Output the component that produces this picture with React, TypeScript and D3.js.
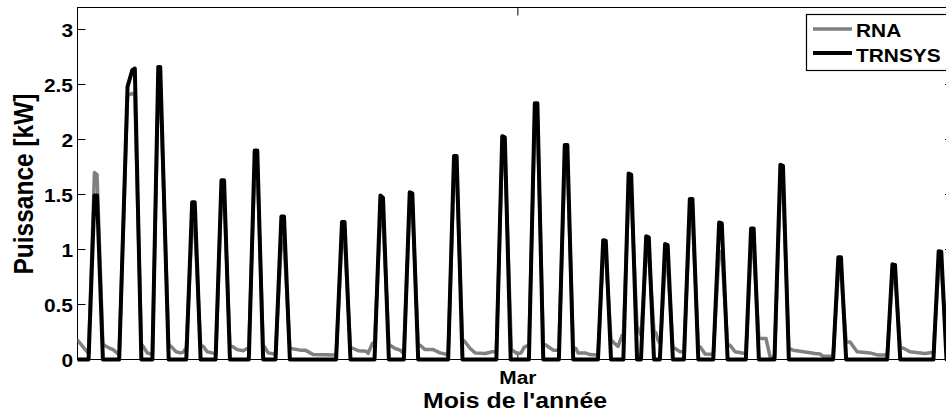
import React from "react";
import * as d3 from "d3";

// Time axis: hours since 15 Feb 00:00 ; "Mar" tick = 1 March 00:00
const xDomain: [number, number] = [-2, 670];
const yDomain: [number, number] = [0, 3.2];
const yTicks = [0, 0.5, 1, 1.5, 2, 2.5, 3];
const yTickLabels = ["0", "0.5", "1", "1.5", "2", "2.5", "3"];
const xTicks = [336];
const xTickLabels = ["Mar"];
const seriesNames = ["RNA", "TRNSYS"];

// TRNSYS simulated power [hour, kW]
const trnsysPoints: [number, number][] = [
  [-2, 0],
  [6.5, 0], [11, 1.49], [13, 1.49], [17.5, 0],
  [30, 0], [36.4, 2.48], [40, 2.63], [42, 2.645], [47, 0],
  [55.5, 0], [60, 2.66], [61.5, 2.66], [68, 0],
  [81.5, 0], [86, 1.43], [88, 1.43], [92.5, 0],
  [104, 0], [108.5, 1.63], [110.5, 1.63], [115, 0],
  [129.5, 0], [134, 1.9], [136, 1.9], [140.5, 0],
  [150, 0], [154.5, 1.3], [156.5, 1.3], [161, 0],
  [196.5, 0], [201, 1.25], [203, 1.25], [207.5, 0],
  [226, 0], [230.5, 1.49], [232.5, 1.47], [237, 0],
  [248.5, 0], [253, 1.52], [255, 1.51], [259.5, 0],
  [282.5, 0], [287, 1.85], [289, 1.85], [293.5, 0],
  [319.5, 0], [324, 2.03], [326, 2.02], [330.5, 0],
  [344.5, 0], [349, 2.33], [351, 2.33], [355.5, 0],
  [367.5, 0], [372, 1.95], [374, 1.95], [378.5, 0],
  [397.5, 0], [401.5, 1.085], [403.5, 1.08], [407.5, 0],
  [417, 0], [421, 1.69], [423, 1.68], [427.5, 0],
  [430.5, 0], [434.5, 1.12], [436.5, 1.11], [440.5, 0],
  [445, 0], [449, 1.05], [451, 1.04], [455, 0],
  [463.5, 0], [468, 1.46], [470, 1.46], [474.5, 0],
  [486, 0], [490.5, 1.245], [492.5, 1.24], [497, 0],
  [511, 0], [515, 1.19], [517, 1.19], [521, 0],
  [533, 0], [537.5, 1.77], [539.5, 1.76], [544, 0],
  [578, 0], [582, 0.93], [584, 0.93], [588, 0],
  [619.5, 0], [623.5, 0.865], [625.5, 0.86], [629.5, 0],
  [655, 0], [659, 0.985], [661, 0.98], [665, 0],
  [670, 0],
];

// RNA (neural network) predicted power [hour, kW]
const rnaPoints: [number, number][] = [
  [-2, 0.176], [4, 0.09], [5.4, 0.07],
  [6.5, 0.06], [11, 1.7], [13, 1.68], [17.5, 0.14],
  [18.5, 0.13], [23.1, 0.1], [25.4, 0.09], [29.2, 0.05],
  [30, 0.05], [36.4, 2.4], [40, 2.42], [42, 2.4], [47, 0.14],
  [48.4, 0.12], [51.5, 0.06], [54.5, 0.05],
  [55.5, 0.05], [60, 2.5], [61.5, 2.5], [68, 0.13],
  [69.9, 0.12], [73.7, 0.07], [76.8, 0.06], [79.1, 0.065], [81, 0.1],
  [81.5, 0.1], [86, 1.22], [88, 1.22], [92.5, 0.13],
  [94.5, 0.12], [97.5, 0.07], [101.4, 0.06], [103.7, 0.055],
  [104.2, 0.055], [108.5, 1.5], [110.5, 1.5], [115, 0.12],
  [117.5, 0.115], [120.5, 0.09], [125.2, 0.08], [128.2, 0.1],
  [129.5, 0.1], [134, 1.75], [136, 1.75], [140.5, 0.12],
  [141.3, 0.12], [144.4, 0.06], [149, 0.05],
  [150, 0.05], [154.5, 1.08], [156.5, 1.08], [161, 0.11],
  [162, 0.1], [168.9, 0.085], [172.7, 0.085], [176.6, 0.06], [178.9, 0.045], [195.8, 0.04],
  [196.5, 0.04], [201, 1.1], [203, 1.1], [207.5, 0.11],
  [209.6, 0.1], [213.4, 0.08], [219.6, 0.075], [221.1, 0.055], [224.2, 0.145], [225.7, 0.15],
  [226, 0.15], [230.5, 1.3], [232.5, 1.3], [237, 0.13],
  [237.9, 0.13], [241.8, 0.1], [245.6, 0.085], [247.9, 0.06],
  [248.5, 0.06], [253, 1.4], [255, 1.4], [259.5, 0.13],
  [261, 0.13], [264.8, 0.09], [271, 0.09], [276.3, 0.06], [281.7, 0.045],
  [282.5, 0.045], [287, 1.7], [289, 1.7], [293.5, 0.17],
  [294.8, 0.17], [299.4, 0.1], [303.2, 0.06], [310.9, 0.055], [316.2, 0.07],
  [319.5, 0.07], [324, 1.9], [326, 1.9], [331, 0.1],
  [331.6, 0.085], [335.4, 0.055], [338.5, 0.06], [340.8, 0.11], [343.9, 0.13],
  [344.5, 0.13], [349, 2.2], [351, 2.2], [355.5, 0.14],
  [357.7, 0.13], [363.1, 0.085], [366.1, 0.085],
  [367.5, 0.085], [372, 1.8], [374, 1.8], [378.5, 0.11],
  [380.6, 0.1], [382.2, 0.06], [387.6, 0.06], [391.5, 0.045], [396.8, 0.04],
  [397.5, 0.04], [401.5, 0.95], [403.5, 0.95], [407.5, 0.18],
  [409.9, 0.15], [412.9, 0.12], [416, 0.22],
  [417, 0.22], [421, 1.5], [423, 1.5], [427.5, 0.3],
  [429.8, 0.24],
  [430.5, 0.22], [434.5, 0.95], [436.5, 0.95], [440.5, 0.26],
  [442.1, 0.24], [443.6, 0.175], [445, 0.15],
  [445.5, 0.15], [449, 0.86], [451, 0.86], [455, 0.11],
  [456.7, 0.1], [460.5, 0.07], [463, 0.07],
  [463.5, 0.07], [468, 1.3], [470, 1.3], [474.5, 0.12],
  [475.9, 0.115], [479.7, 0.05], [485.1, 0.048],
  [486, 0.048], [490.5, 0.98], [492.5, 0.98], [497, 0.13],
  [498.9, 0.13], [502.7, 0.07], [510.4, 0.055],
  [511, 0.055], [515, 1.0], [517, 1.0], [521, 0.19],
  [523.4, 0.19], [526.5, 0.19], [529.6, 0.024], [532.7, 0.02],
  [533, 0.02], [537.5, 1.6], [539.5, 1.6], [544, 0.1],
  [547.2, 0.085], [552.6, 0.075], [564.1, 0.055], [567.9, 0.05], [570.2, 0.03], [575.6, 0.03],
  [578, 0.03], [582, 0.8], [584, 0.8], [588, 0.16],
  [591, 0.16], [596.4, 0.07], [606.3, 0.06], [612.5, 0.04],
  [619.5, 0.04], [623.5, 0.75], [625.5, 0.75], [629.5, 0.11],
  [632.4, 0.1], [637, 0.07], [648.5, 0.055], [654.7, 0.065],
  [655, 0.065], [659, 0.84], [661, 0.84], [665, 0.12],
  [667.5, 0.1], [670, 0.08],
];

const FONT = "'Liberation Sans', Arial, Helvetica, sans-serif";
const SX = 1.13; // horizontal stretch of the original figure's text

export default function App() {
  const left = 77.5, right = 953, top = 7.5, bottom = 359.5;
  const x = d3.scaleLinear().domain(xDomain).range([left, right]);
  const y = d3.scaleLinear().domain(yDomain).range([bottom, top]);
  const line = d3
    .line<[number, number]>()
    .x((d) => x(d[0]))
    .y((d) => y(d[1]));

  return (
    <svg
      width={946}
      height={413}
      style={{ position: "absolute", left: 0, top: 0, background: "#fff" }}
      fontFamily={FONT}
    >
      <rect x={0} y={0} width={946} height={413} fill="#fff" />
      <defs>
        <clipPath id="plotClip">
          <rect x={left} y={0} width={right - left} height={bottom + 4} />
        </clipPath>
      </defs>

      {/* axes box */}
      <rect x={left} y={top} width={right - left} height={bottom - top} fill="none" stroke="#000" strokeWidth={1} />

      {/* y ticks */}
      {yTicks.map((t, i) => (
        <g key={"yt" + i}>
          <line x1={left} x2={left + 8} y1={y(t)} y2={y(t)} stroke="#000" strokeWidth={1} />
          <line x1={right - 8} x2={right} y1={y(t)} y2={y(t)} stroke="#000" strokeWidth={1} />
          <text
            transform={`translate(73,${y(t) + 7}) scale(${SX},1)`}
            textAnchor="end"
            fontSize={18.5}
            fontWeight="bold"
            fill="#000"
          >
            {yTickLabels[i]}
          </text>
        </g>
      ))}

      {/* x ticks */}
      {xTicks.map((t, i) => (
        <g key={"xt" + i}>
          <line x1={x(t)} x2={x(t)} y1={top} y2={top + 8} stroke="#000" strokeWidth={1} />
          <line x1={x(t)} x2={x(t)} y1={bottom} y2={bottom - 8} stroke="#000" strokeWidth={1} />
          <text
            transform={`translate(${x(t)},384) scale(${SX},1)`}
            textAnchor="middle"
            fontSize={18.5}
            fontWeight="bold"
            fill="#000"
          >
            {xTickLabels[i]}
          </text>
        </g>
      ))}

      {/* series */}
      <g clipPath="url(#plotClip)">
        <path d={line(rnaPoints) || ""} fill="none" stroke="#808080" strokeWidth={3.5} strokeLinejoin="round" strokeLinecap="round" />
        <path d={line(trnsysPoints) || ""} fill="none" stroke="#000" strokeWidth={4} strokeLinejoin="round" strokeLinecap="round" />
      </g>

      {/* axis labels */}
      <text
        transform={`translate(515,408) scale(${SX},1)`}
        textAnchor="middle"
        fontSize={22}
        fontWeight="bold"
        fill="#000"
      >
        Mois de l'année
      </text>
      <text
        transform={`translate(33,184) scale(${SX},1) rotate(-90)`}
        textAnchor="middle"
        fontSize={24.5}
        fontWeight="bold"
        fill="#000"
      >
        Puissance [kW]
      </text>

      {/* legend */}
      <g>
        <rect x={806.5} y={14.5} width={146} height={56} fill="#fff" stroke="#000" strokeWidth={1.2} />
        <line x1={813} x2={852} y1={29} y2={29} stroke="#808080" strokeWidth={3.5} />
        <line x1={813} x2={852} y1={53} y2={53} stroke="#000" strokeWidth={4} />
        <text transform={`translate(856,36.7) scale(${SX},1)`} fontSize={18.5} fontWeight="bold" fill="#000">
          {seriesNames[0]}
        </text>
        <text transform={`translate(856,61.7) scale(${SX},1)`} fontSize={18.5} fontWeight="bold" fill="#000">
          {seriesNames[1]}
        </text>
      </g>
    </svg>
  );
}
